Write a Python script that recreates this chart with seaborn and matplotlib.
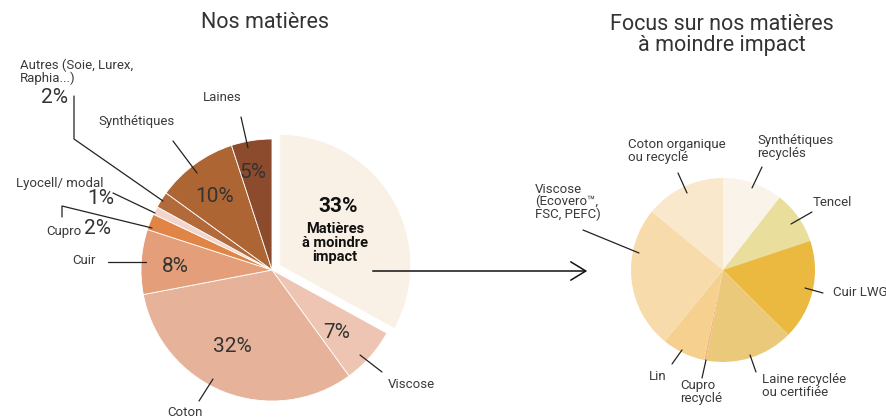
import matplotlib
matplotlib.use("Agg")
import matplotlib.pyplot as plt
import seaborn as sns

# ---------------- data ----------------
main_labels = ["Matières à moindre impact", "Viscose", "Coton", "Cuir", "Cupro",
               "Lyocell/ modal", "Autres (Soie, Lurex, Raphia...)", "Synthétiques", "Laines"]
main_values = [33, 7, 32, 8, 2, 1, 2, 10, 5]
main_colors = ["#F9F1E6", "#EEC5B3", "#E7B29A", "#E49E79", "#E08545",
               "#F2D6CD", "#B26A3A", "#AD6633", "#8C4B2D"]

focus_labels = ["Synthétiques recyclés", "Tencel", "Cuir LWG", "Laine recyclée ou certifiée",
                "Cupro recyclé", "Lin", "Viscose (Ecovero™, FSC, PEFC)", "Coton organique ou recyclé"]
focus_values = [10.6, 9.3, 17.6, 15.5, 0.4, 7.6, 25.1, 14.1]
focus_colors = ["#FAF3E9", "#E9DE9C", "#ECB940", "#EBC97B", "#F6B67E",
                "#F6D08F", "#F8DBAB", "#F9E8CB"]

W, H = 887, 417

sns.set_theme(style="white")
plt.rcParams["font.family"] = ["Roboto", "DejaVu Sans"]

fig = plt.figure(figsize=(W / 100, H / 100), dpi=100)
ax = fig.add_axes([0, 0, 1, 1])


def Y(y):
    return H - y


TXT = "#3a3a3a"
DARK = "#333333"
LIGHTW = "normal"

# ---------------- pies ----------------
ax.pie(main_values, colors=main_colors, startangle=90, counterclock=False,
       center=(272, Y(270)), radius=131,
       explode=[9] + [0] * (len(main_values) - 1),
       wedgeprops=dict(edgecolor="white", linewidth=0.6))

ax.pie(focus_values, colors=focus_colors, startangle=90, counterclock=False,
       center=(723, Y(270)), radius=92,
       wedgeprops=dict(edgecolor="none", linewidth=0))

ax.set_xlim(0, W)
ax.set_ylim(0, H)
ax.set_aspect("equal")
ax.axis("off")

# ---------------- titles ----------------
ax.text(265, Y(22), "Nos matières", ha="center", va="center", fontsize=15.5,
        fontweight=LIGHTW, color=DARK)
ax.text(722, Y(35), "Focus sur nos matières\nà moindre impact", ha="center", va="center",
        fontsize=15.5, fontweight=LIGHTW, color=DARK, linespacing=1.05)

# ---------------- in-pie numbers ----------------
pct_kw = dict(ha="center", va="center", fontsize=15, fontweight=LIGHTW, color=DARK)
ax.text(337, Y(332), f"{main_values[1]}%", **pct_kw)
ax.text(232, Y(347), f"{main_values[2]}%", **pct_kw)
ax.text(175, Y(267), f"{main_values[3]}%", **pct_kw)
ax.text(215, Y(196), f"{main_values[7]}%", **pct_kw)
ax.text(253, Y(172), f"{main_values[8]}%", **pct_kw)

ax.text(338, Y(206), f"{main_values[0]}%", ha="center", va="center", fontsize=15,
        fontweight="bold", color="#111111")
ax.text(335, Y(243), "Matières\nà moindre\nimpact", ha="center", va="center",
        fontsize=10.5, fontweight="bold", color="#111111", linespacing=1.0)

# ---------------- labels & leaders (left pie) ----------------
lab_kw = dict(fontsize=9.5, color=TXT)
line_kw = dict(color="#222222", linewidth=0.9)


def leader(points):
    xs = [p[0] for p in points]
    ys = [Y(p[1]) for p in points]
    ax.plot(xs, ys, **line_kw)


ax.text(20, Y(72), "Autres (Soie, Lurex,\nRaphia...)", ha="left", va="center",
        linespacing=1.0, **lab_kw)
ax.text(55, Y(97), f"{main_values[6]}%", ha="center", va="center", fontsize=15,
        fontweight=LIGHTW, color=DARK)
leader([(74, 96), (74, 139), (163, 201)])

ax.text(222, Y(97), "Laines", ha="center", va="center", **lab_kw)
leader([(241, 117), (248, 148)])

ax.text(137, Y(121), "Synthétiques", ha="center", va="center", **lab_kw)
leader([(173, 141), (197, 173)])

ax.text(60, Y(183), "Lyocell/ modal", ha="center", va="center", **lab_kw)
ax.text(101, Y(199), f"{main_values[5]}%", ha="center", va="center", fontsize=15,
        fontweight=LIGHTW, color=DARK)
leader([(113, 193), (155, 213)])

ax.text(64, Y(231), "Cupro", ha="center", va="center", **lab_kw)
ax.text(98, Y(229), f"{main_values[4]}%", ha="center", va="center", fontsize=15,
        fontweight=LIGHTW, color=DARK)
leader([(62, 217), (62, 206), (152, 228)])

ax.text(84, Y(261), "Cuir", ha="center", va="center", **lab_kw)
leader([(108, 262), (146, 262)])

ax.text(411, Y(385), "Viscose", ha="center", va="center", **lab_kw)
leader([(360, 355), (382, 372)])

ax.text(185, Y(412), "Coton", ha="center", va="center", **lab_kw)
leader([(213, 379), (199, 401)])

# arrow
ax.annotate("", xy=(590, Y(271)), xytext=(370, Y(271)),
            arrowprops=dict(arrowstyle="->,head_length=0.9,head_width=0.55",
                            color="#111111", linewidth=1.1))

# ---------------- labels & leaders (right pie) ----------------
ax.text(628, Y(151), "Coton organique\nou recyclé", ha="left", va="center",
        linespacing=1.0, **lab_kw)
leader([(678, 173), (687, 193)])

ax.text(757, Y(147), "Synthétiques\nrecyclés", ha="left", va="center",
        linespacing=1.0, **lab_kw)
leader([(762, 167), (752, 188)])

ax.text(813, Y(203), "Tencel", ha="left", va="center", **lab_kw)
leader([(812, 212), (791, 224)])

ax.text(833, Y(292), "Cuir LWG", ha="left", va="center", **lab_kw)
leader([(805, 288), (823, 293)])

ax.text(762, Y(386), "Laine recyclée\nou certifiée", ha="left", va="center",
        linespacing=1.0, **lab_kw)
leader([(750, 355), (756, 372)])

ax.text(680, Y(392), "Cupro\nrecyclé", ha="left", va="center",
        linespacing=1.0, **lab_kw)
leader([(706, 360), (702, 378)])

ax.text(658, Y(377), "Lin", ha="center", va="center", **lab_kw)
leader([(682, 350), (672, 364)])

ax.text(535, Y(202), "Viscose\n(Ecovero™,\nFSC, PEFC)", ha="left", va="center",
        linespacing=0.95, **lab_kw)
leader([(583, 230), (639, 253)])

fig.savefig("out.png", dpi=100)
